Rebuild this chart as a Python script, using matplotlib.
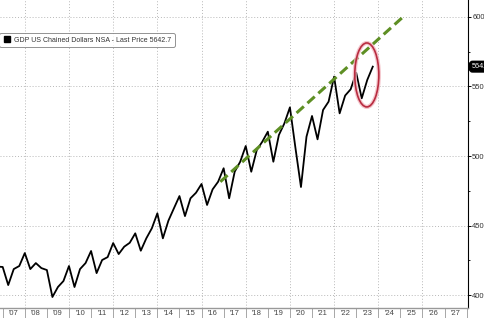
import matplotlib
matplotlib.use('Agg')
import matplotlib.pyplot as plt
from matplotlib.patches import Ellipse
from matplotlib.lines import Line2D
from matplotlib.ticker import FixedLocator, NullFormatter, FixedFormatter

plt.rcParams['font.family'] = ['Liberation Sans Narrow', 'Liberation Sans', 'DejaVu Sans']

quarters = ['2006Q3', '2006Q4',
            '2007Q1', '2007Q2', '2007Q3', '2007Q4',
            '2008Q1', '2008Q2', '2008Q3', '2008Q4',
            '2009Q1', '2009Q2', '2009Q3', '2009Q4',
            '2010Q1', '2010Q2', '2010Q3', '2010Q4',
            '2011Q1', '2011Q2', '2011Q3', '2011Q4',
            '2012Q1', '2012Q2', '2012Q3', '2012Q4',
            '2013Q1', '2013Q2', '2013Q3', '2013Q4',
            '2014Q1', '2014Q2', '2014Q3', '2014Q4',
            '2015Q1', '2015Q2', '2015Q3', '2015Q4',
            '2016Q1', '2016Q2', '2016Q3', '2016Q4',
            '2017Q1', '2017Q2', '2017Q3', '2017Q4',
            '2018Q1', '2018Q2', '2018Q3', '2018Q4',
            '2019Q1', '2019Q2', '2019Q3', '2019Q4',
            '2020Q1', '2020Q2', '2020Q3', '2020Q4',
            '2021Q1', '2021Q2', '2021Q3', '2021Q4',
            '2022Q1', '2022Q2', '2022Q3', '2022Q4',
            '2023Q1', '2023Q2', '2023Q3']
gdp = [4205, 4202,
       4072, 4187, 4209, 4302,
       4187, 4230, 4194, 4180,
       3986, 4058, 4101, 4209,
       4058, 4187, 4230, 4317,
       4158, 4252, 4273, 4374,
       4295, 4348, 4376, 4444,
       4319, 4408, 4480, 4588,
       4408, 4535, 4624, 4712,
       4568, 4696, 4736, 4799,
       4648, 4760, 4815, 4912,
       4696, 4887, 4959, 5072,
       4887, 5043, 5103, 5175,
       4959, 5151, 5235, 5350,
       5058, 4777, 5139, 5288,
       5120, 5331, 5391, 5571,
       5307, 5435, 5480, 5599,
       5415, 5547, 5642.7]
last_price = 5642.7

trend_x = [2016.85, 2025.18]
trend_y = [4815, 6009]

circle_center = (2023.48, 5583)
circle_size = (1.09, 460)

years = list(range(2007, 2029))
year_labels = ["'%02d" % (y % 100) for y in range(2007, 2028)]
y_major = [4000, 4500, 5000, 5500, 6000]
y_minor = [4250, 4750, 5250, 5750]

legend_label = 'GDP US Chained Dollars NSA - Last Price 5642.7'

def q_to_x(q):
    y, n = q.split('Q')
    return int(y) + int(n) * 0.25

xs = [q_to_x(q) for q in quarters]

fig = plt.figure(figsize=(4.85, 3.18), dpi=100)
ax = fig.add_axes([0.0, 1 - 308 / 318, 468 / 485, 308 / 318])

for yr in range(2008, 2028, 2):
    ax.axvline(yr, ls=(0, (1, 2)), color='#b8b8b8', lw=0.7, zorder=0)
for v in y_major:
    ax.axhline(v, ls=(0, (1, 2)), color='#b8b8b8', lw=0.7, zorder=0)

ax.plot(xs, gdp, color='black', lw=1.3, zorder=3)
ax.plot(trend_x, trend_y, color='#5e8f24', lw=2.2, ls=(0, (3.2, 1.6)), zorder=4)

glow = Ellipse(circle_center, circle_size[0], circle_size[1], fill=False,
               edgecolor='#f2b8c0', lw=3.0, zorder=5, alpha=0.8)
ax.add_patch(glow)
ell = Ellipse(circle_center, circle_size[0], circle_size[1], fill=False,
              edgecolor='#b82c40', lw=1.2, zorder=6)
ax.add_patch(ell)

ax.set_xlim(2006.878, 2028.06)
ax.set_ylim(3907, 6122)

for s in ['top', 'left']:
    ax.spines[s].set_visible(False)
ax.spines['right'].set_color('black')
ax.spines['right'].set_linewidth(0.8)
ax.spines['bottom'].set_color('#999999')
ax.spines['bottom'].set_linewidth(1.0)

ax.xaxis.set_major_locator(FixedLocator(years))
ax.xaxis.set_major_formatter(NullFormatter())
ax.xaxis.set_minor_locator(FixedLocator([y + 0.5 for y in range(2007, 2028)]))
ax.xaxis.set_minor_formatter(FixedFormatter(year_labels))
ax.tick_params(axis='x', which='major', direction='out', length=8, width=0.6, color='#999999')
ax.tick_params(axis='x', which='minor', length=0, pad=1.5, labelsize=5.5, labelcolor='#444444')

ax.yaxis.tick_right()
ax.yaxis.set_major_locator(FixedLocator(y_major))
ax.yaxis.set_minor_locator(FixedLocator(y_minor))
ax.tick_params(axis='y', which='major', direction='out', length=2, width=0.7, color='black',
               pad=1, labelsize=5.5, labelcolor='#333333')
ax.tick_params(axis='y', which='minor', direction='out', length=1.5, width=0.6, color='black')

handle = Line2D([], [], marker='s', color='black', ls='none', markersize=4)
leg = ax.legend([handle], [legend_label], loc='upper left',
                bbox_to_anchor=(0.0, 1 - 34 / 308), fontsize=5.0, frameon=True,
                fancybox=True, borderpad=0.4, handletextpad=0.35, handlelength=1.3,
                borderaxespad=0.0)
leg.get_frame().set_edgecolor('#777777')
leg.get_frame().set_linewidth(0.7)
leg.get_frame().set_boxstyle('round,pad=0.1,rounding_size=0.3')
for t in leg.get_texts():
    t.set_color('#333333')

ax.annotate('%.1f' % last_price, xy=(1.0, last_price), xycoords=('axes fraction', 'data'),
            xytext=(2.5, 0), textcoords='offset points', color='white', fontsize=5.3,
            va='center', ha='left', annotation_clip=False,
            bbox=dict(boxstyle='round,pad=0.25,rounding_size=0.4', fc='black', ec='black'))

fig.savefig('out.png', dpi=100)
